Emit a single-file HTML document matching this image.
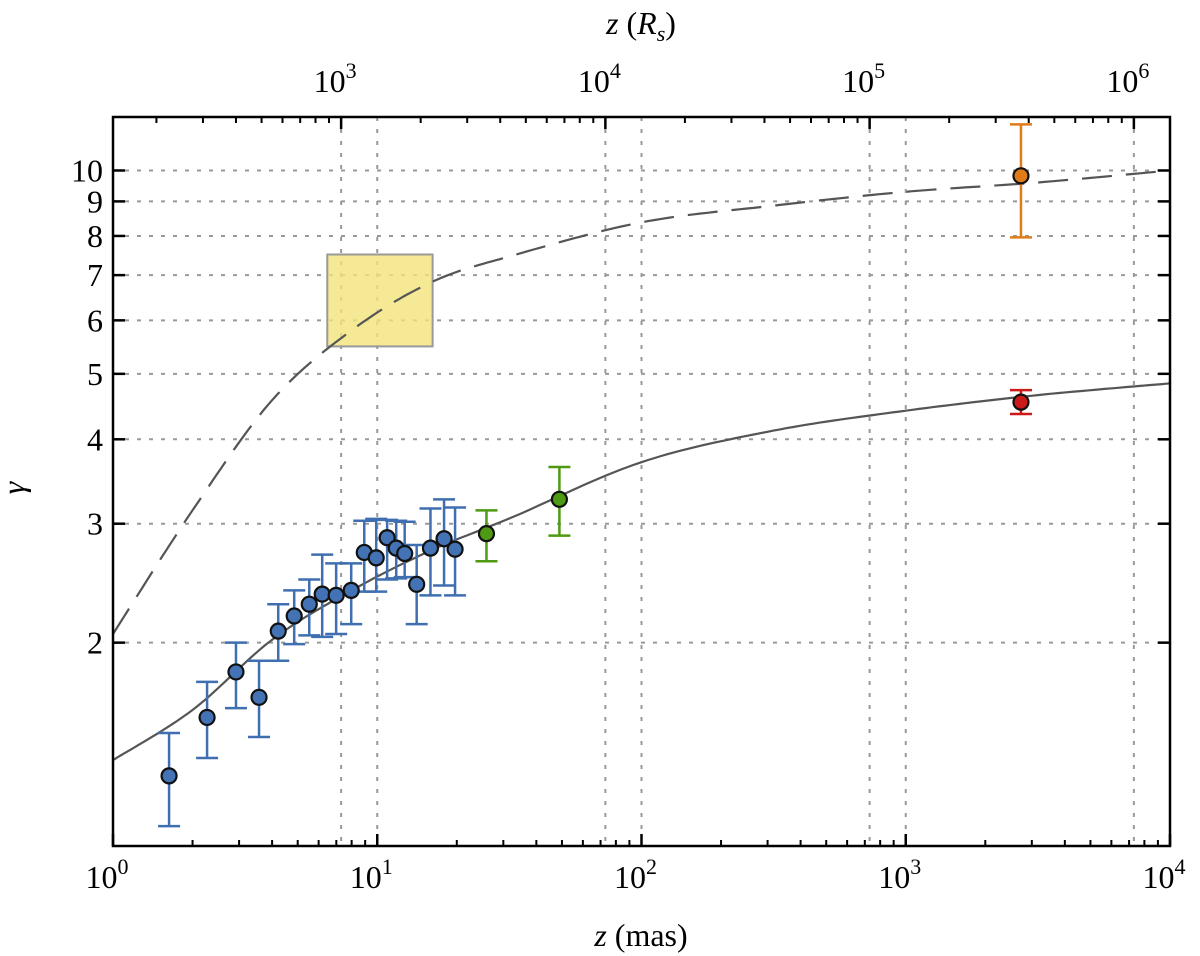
<!DOCTYPE html>
<html><head><meta charset="utf-8"><style>
body{margin:0;background:#fff}
svg{display:block;font-family:"Liberation Serif","DejaVu Serif",serif}
</style></head><body>
<svg id="chart" width="1200" height="956" viewBox="0 0 1200 956"></svg>
<script>
// ---- data ----
const blueX=[1.63,2.27,2.92,3.57,4.22,4.85,5.53,6.19,6.99,7.97,8.93,9.91,10.9,11.8,12.7,14.1,15.9,17.9,19.7];
const blueY=[1.27,1.55,1.81,1.66,2.08,2.19,2.28,2.36,2.35,2.39,2.72,2.67,2.86,2.76,2.71,2.44,2.76,2.85,2.75];
const blueHi=[1.47,1.75,2.0,1.88,2.28,2.39,2.48,2.70,2.62,2.62,3.03,3.05,3.04,3.03,3.02,2.79,3.16,3.26,3.17];
const blueLo=[1.07,1.35,1.60,1.45,1.88,1.99,2.05,2.04,2.06,2.13,2.38,2.38,2.48,2.49,2.50,2.13,2.35,2.43,2.35];
const greenX=[25.9,48.9];
const greenY=[2.90,3.26];
const greenHi=[3.14,3.64];
const greenLo=[2.64,2.88];
const orangeX=[2729];const orangeY=[9.82];const orangeHi=[11.7];const orangeLo=[7.96];
const redX=[2729];const redY=[4.54];const redHi=[4.73];const redLo=[4.36];
const solidX=[1,2,4,8,16,32,100,316,1000,3162,10000];
const solidY=[1.34,1.59,2.02,2.39,2.74,3.06,3.70,4.12,4.41,4.65,4.84];
const dashX=[1,2,4,8,16,32,100,316,1000,3162,10000];
const dashY=[2.06,3.14,4.57,5.80,6.83,7.47,8.38,8.87,9.3,9.6,10.0];
const boxX=[6.47,16.2];const boxY=[5.49,7.51];
const yTicks=[2,3,4,5,6,7,8,9,10];
const xTicks=[1,10,100,1000,10000];
const xTickExp=["0","1","2","3","4"];
const topTicks=[1e3,1e4,1e5,1e6];
const topTickExp=["3","4","5","6"];
const RS_PER_MAS=137;
// ---- axes ----
const L=113,R=1170,T=117,B=846;
const X=v=>L+(Math.log10(v)-0)/(4)*(R-L);
const Y=v=>B-(Math.log10(v)-0)/Math.log10(12)*(B-T);
const XT=rs=>X(rs/RS_PER_MAS);
const svg=document.getElementById('chart');
const NS='http://www.w3.org/2000/svg';
function mk(tag,attrs,parent){const e=document.createElementNS(NS,tag);for(const k in attrs)e.setAttribute(k,attrs[k]);(parent||svg).appendChild(e);return e;}
// grid
const grid=mk('g',{});


yTicks.forEach(v=>{const l=mk('line',{x1:L,x2:R,y1:Y(v),y2:Y(v),stroke:'#999','stroke-width':2,'stroke-dasharray':'4 8'},grid);

});
xTicks.slice(1,4).forEach(v=>{const l=mk('line',{x1:X(v),x2:X(v),y1:T,y2:B,stroke:'#999','stroke-width':2,'stroke-dasharray':'4 8'},grid);

});
topTicks.forEach(v=>{const l=mk('line',{x1:XT(v),x2:XT(v),y1:T,y2:B,stroke:'#999','stroke-width':2,'stroke-dasharray':'4 8'},grid);

});
// yellow box
const bx=mk('rect',{x:X(boxX[0]),y:Y(boxY[1]),width:X(boxX[1])-X(boxX[0]),height:Y(boxY[0])-Y(boxY[1]),fill:'#f3e47a','fill-opacity':0.8,stroke:'#999','stroke-width':2});


// curves
function curvePath(xs,ys){let pts=[];const n=xs.length;
 for(let i=0;i<n-1;i++){for(let t=0;t<20;t++){const s=t/20;
  const i0=Math.max(0,i-1),i3=Math.min(n-1,i+2);
  const lx=[xs[i0],xs[i],xs[i+1],xs[i3]].map(Math.log10),ly=[ys[i0],ys[i],ys[i+1],ys[i3]].map(Math.log10);
  const cr=a=>0.5*((2*a[1])+(-a[0]+a[2])*s+(2*a[0]-5*a[1]+4*a[2]-a[3])*s*s+(-a[0]+3*a[1]-3*a[2]+a[3])*s*s*s);
  pts.push([X(10**cr(lx)),Y(10**cr(ly))]);}}
 pts.push([X(xs[n-1]),Y(ys[n-1])]);
 return 'M'+pts.map(p=>p[0].toFixed(1)+','+p[1].toFixed(1)).join('L');}
const clip=mk('clipPath',{id:'pc'});mk('rect',{x:L,y:T,width:R-L,height:B-T},clip);
const dc=mk('path',{d:curvePath(dashX,dashY),fill:'none',stroke:'#555','stroke-width':2.2,'stroke-dasharray':'30 14','clip-path':'url(#pc)'});


const sc=mk('path',{d:curvePath(solidX,solidY),fill:'none',stroke:'#555','stroke-width':2.2,'clip-path':'url(#pc)'});


// points
function series(xs,ys,lo,hi,col,fill,name){const g=mk('g',{});
 
 
 xs.forEach((x,i)=>{const cx=X(x);
  const e=mk('path',{d:`M${cx},${Y(hi[i])}V${Y(lo[i])}M${cx-11},${Y(hi[i])}H${cx+11}M${cx-11},${Y(lo[i])}H${cx+11}`,stroke:col,'stroke-width':2.5,fill:'none'},g);
  
  });
 xs.forEach((x,i)=>{const c=mk('circle',{cx:X(x),cy:Y(ys[i]),r:7.5,fill:fill,stroke:'#111','stroke-width':2.2},g);
  
  });}
series(blueX,blueY,blueLo,blueHi,'#3f6fb0','#4373b4','blue');
series(greenX,greenY,greenLo,greenHi,'#4e9a12','#4e9a12','green');
series(orangeX,orangeY,orangeLo,orangeHi,'#e07b1a','#e07b1a','orange');
series(redX,redY,redLo,redHi,'#cc1a1a','#cc1a1a','red');
// frame
const fr=mk('rect',{x:L,y:T,width:R-L,height:B-T,fill:'none',stroke:'#000','stroke-width':2.5});


// x ticks bottom
const ax=mk('g',{});


xTicks.forEach((v,i)=>{mk('line',{x1:X(v),x2:X(v),y1:B,y2:B-12,stroke:'#000','stroke-width':2.5},ax);
 for(let m=2;m<10&&i<4;m++)mk('line',{x1:X(v*m),x2:X(v*m),y1:B,y2:B-6,stroke:'#000','stroke-width':2},ax);
 const t=mk('text',{x:X(v)-6,y:B+42,'font-size':32,'text-anchor':'middle'},ax);
 t.innerHTML='10<tspan dy="-14" font-size="22">'+xTickExp[i]+'</tspan>';
 
 });
const xl=mk('text',{x:641,y:946,'font-size':32,'text-anchor':'middle'});
xl.innerHTML='<tspan font-style="italic">z</tspan> (mas)';


// top ticks
const at=mk('g',{});


[1e2,1e3,1e4,1e5,1e6].forEach((v,i)=>{if(v>=1e3)mk('line',{x1:XT(v),x2:XT(v),y1:T,y2:T+12,stroke:'#000','stroke-width':2.5},at);
 for(let m=2;m<10;m++){const xx=XT(v*m);if(xx>L&&xx<R)mk('line',{x1:xx,x2:xx,y1:T,y2:T+6,stroke:'#000','stroke-width':2},at);}});
topTicks.forEach((v,i)=>{const t=mk('text',{x:XT(v)-6,y:T-25,'font-size':32,'text-anchor':'middle'},at);
 t.innerHTML='10<tspan dy="-14" font-size="22">'+topTickExp[i]+'</tspan>';
 
 });
const tl=mk('text',{x:641,y:34,'font-size':32,'text-anchor':'middle'});
tl.innerHTML='<tspan font-style="italic">z</tspan> (<tspan font-style="italic">R</tspan><tspan font-style="italic" font-size="22" dy="7">s</tspan><tspan dy="-7">)</tspan>';


// y ticks
const ay=mk('g',{});


yTicks.forEach(v=>{mk('line',{x1:L,x2:L+12,y1:Y(v),y2:Y(v),stroke:'#000','stroke-width':2.5},ay);
 mk('line',{x1:R,x2:R-12,y1:Y(v),y2:Y(v),stroke:'#000','stroke-width':2.5},ay);
 const t=mk('text',{x:L-10,y:Y(v)+11,'font-size':32,'text-anchor':'end'},ay);t.textContent=v;
 
 });
const yl=mk('text',{x:24,y:488,'font-size':32,'font-style':'italic','text-anchor':'middle',transform:'rotate(-90 24 488)'});
yl.textContent='γ';


</script>
</body></html>
